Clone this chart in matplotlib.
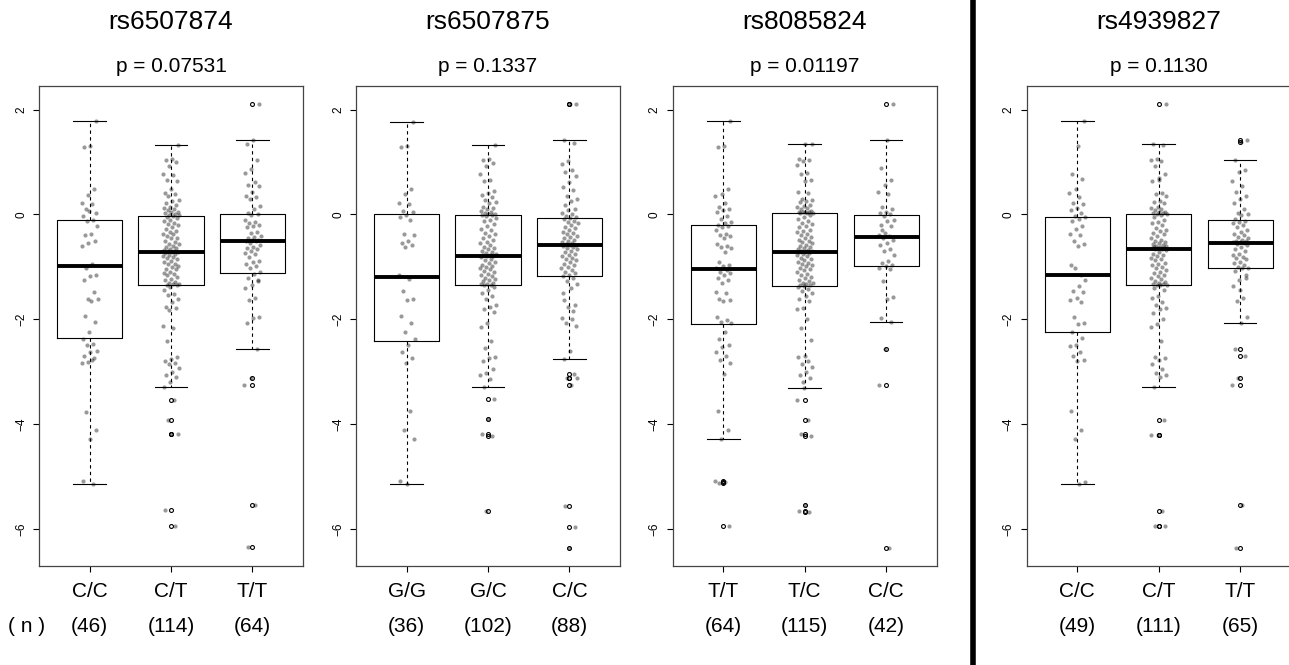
import numpy as np
import matplotlib
matplotlib.use("Agg")
import matplotlib.pyplot as plt
from matplotlib.lines import Line2D
from matplotlib.transforms import blended_transform_factory

plt.rcParams['font.family'] = ['Liberation Sans', 'DejaVu Sans']

# ---------------- data ----------------
snps = ["rs6507874", "rs6507875", "rs8085824", "rs4939827"]
pvals = ["p = 0.07531", "p = 0.1337", "p = 0.01197", "p = 0.1130"]
genotypes = [["C/C", "C/T", "T/T"],
             ["G/G", "G/C", "C/C"],
             ["T/T", "T/C", "C/C"],
             ["C/C", "C/T", "T/T"]]
n_labels = [["(46)", "(114)", "(64)"],
            ["(36)", "(102)", "(88)"],
            ["(64)", "(115)", "(42)"],
            ["(49)", "(111)", "(65)"]]

# box statistics: [lower whisker, Q1, median, Q3, upper whisker]
box_rs6507874 = [[-5.14, -2.36, -0.98, -0.11, 1.78],
                 [-3.30, -1.34, -0.72, -0.03, 1.33],
                 [-2.56, -1.12, -0.50, 0.01, 1.41]]
box_rs6507875 = [[-5.14, -2.42, -1.20, 0.00, 1.77],
                 [-3.30, -1.35, -0.79, -0.01, 1.33],
                 [-2.76, -1.17, -0.59, -0.06, 1.41]]
box_rs8085824 = [[-4.28, -2.09, -1.05, -0.21, 1.78],
                 [-3.31, -1.36, -0.71, 0.03, 1.35],
                 [-2.06, -0.98, -0.43, -0.01, 1.41]]
box_rs4939827 = [[-5.14, -2.24, -1.16, -0.05, 1.78],
                 [-3.30, -1.35, -0.66, 0.00, 1.34],
                 [-2.07, -1.03, -0.54, -0.11, 1.03]]

# individual values
p1_cc = [1.78, 1.30, 1.28, 0.48, 0.37, 0.22, 0.19, 0.11, 0.03, 0.06, -0.04, -0.11, -0.13,
         -0.22, -0.37, -0.39, -0.51, -0.54, -0.60, -0.95, -1.02, -1.16, -1.17, -1.25, -1.49,
         -1.61, -1.62, -1.66, -1.94, -2.06, -2.24, -2.37, -2.48, -2.49, -2.60, -2.62, -2.70,
         -2.75, -2.81, -2.83, -2.77, -3.77, -4.12, -4.29, -5.09, -5.14]
p1_ct = [1.33, 1.05, 1.03, 1.00, 0.93, 0.78, 0.75, 0.66, 0.63, 0.49, 0.41, 0.38, 0.36, 0.27,
         0.25, 0.22, 0.17, 0.14, 0.13, 0.10, 0.08, 0.05, 0.04, 0.02, 0.01, -0.01, -0.02, -0.03,
         -0.05, -0.07, -0.11, -0.12, -0.16, -0.19, -0.20, -0.24, -0.27, -0.31, -0.33, -0.37,
         -0.38, -0.42, -0.45, -0.46, -0.51, -0.52, -0.56, -0.57, -0.61, -0.63, -0.64, -0.66,
         -0.68, -0.69, -0.70, -0.71, -0.72,
         -0.73, -0.75, -0.78, -0.79, -0.82, -0.84, -0.86, -0.89, -0.91, -0.94, -0.95, -0.99,
         -1.01, -1.04, -1.05, -1.09, -1.11, -1.14, -1.16, -1.20, -1.23, -1.26, -1.29, -1.30,
         -1.32, -1.33, -1.34, -1.34,
         -1.38, -1.44, -1.51, -1.54, -1.62, -1.67, -1.76, -1.78, -1.83, -2.13, -2.16, -2.42,
         -2.73, -2.76, -2.79, -2.83, -2.86, -2.94, -3.01, -3.06, -3.11, -3.19, -3.30, -3.54,
         -3.92, -4.20, -4.20, -5.65, -5.94]
p1_tt = [2.11, 1.41, 1.35, 1.03, 0.86, 0.79, 0.62, 0.57, 0.54, 0.43, 0.35, 0.33, 0.30, 0.16,
         0.11, 0.02, 0.00, -0.02, -0.11, -0.15, -0.16, -0.20, -0.22, -0.25, -0.33, -0.36,
         -0.41, -0.43, -0.46, -0.48, -0.49, -0.50, -0.51, -0.54, -0.59, -0.62, -0.65, -0.67,
         -0.70, -0.73, -0.76, -0.81, -0.89, -0.91, -0.95, -0.98, -1.03, -1.10, -1.14, -1.21,
         -1.27, -1.35, -1.41, -1.59, -1.64, -1.96, -1.97, -2.08, -2.56, -3.12, -3.25, -5.54,
         -6.35, -1.25]

p2_gg = [1.77, 1.30, 1.28, 0.48, 0.38, 0.22, 0.19, 0.06, 0.04, -0.02, -0.05, -0.11, -0.37,
         -0.39, -0.51, -0.54, -0.59, -0.62, -1.16, -1.24, -1.47, -1.61, -1.64, -1.94, -2.07,
         -2.24, -2.37, -2.49, -2.63, -2.75, -2.84, -5.09, -3.76, -4.11, -4.28, -5.14]
p2_gc = [1.33, 1.06, 1.03, 0.98, 0.93, 0.78, 0.65, 0.63, 0.45, 0.40, 0.37, 0.33, 0.27, 0.24,
         0.22, 0.15, 0.12, 0.10, 0.06, 0.04, 0.03, 0.01, 0.00, -0.01, -0.01,
         -0.03, -0.06, -0.10, -0.13, -0.18, -0.22, -0.27, -0.30, -0.35, -0.38, -0.42, -0.45,
         -0.49, -0.52, -0.55, -0.59, -0.62, -0.64, -0.67, -0.69, -0.72, -0.74, -0.76, -0.77,
         -0.78, -0.79,
         -0.80, -0.82, -0.85, -0.87, -0.90, -0.93, -0.96, -0.98, -1.00, -1.02, -1.05, -1.08,
         -1.10, -1.13, -1.15, -1.18, -1.21, -1.24, -1.26, -1.28, -1.30, -1.32, -1.33, -1.34,
         -1.35,
         -1.39, -1.45, -1.50, -1.55, -1.62, -1.72, -1.77, -1.80, -1.86, -2.08, -2.14, -2.41,
         -2.55, -2.72, -2.75, -2.79, -2.96, -3.03, -3.07, -3.14, -3.30, -3.53, -3.91, -4.20,
         -4.22, -5.66]
p2_cc = [2.11, 2.11, 1.41, 1.36, 1.02, 0.97, 0.85, 0.80, 0.74, 0.62, 0.53, 0.46, 0.35, 0.30,
         0.25, 0.17, 0.11, 0.09, 0.03, 0.00, -0.03, -0.05,
         -0.07, -0.09, -0.13, -0.15, -0.17, -0.21, -0.24, -0.26, -0.30, -0.33, -0.36, -0.38,
         -0.41, -0.44, -0.46, -0.49, -0.51, -0.53, -0.55, -0.57, -0.58, -0.59,
         -0.60, -0.62, -0.64, -0.67, -0.69, -0.72, -0.75, -0.77, -0.80, -0.83, -0.86, -0.88,
         -0.91, -0.94, -0.97, -1.00, -1.03, -1.06, -1.09, -1.12, -1.15, -1.17,
         -1.21, -1.27, -1.33, -1.40, -1.64, -1.72, -1.76, -1.98, -2.00, -2.08, -2.13, -2.61,
         -2.76, -3.04, -3.13, -3.13, -3.26, -5.56, -5.96, -6.37, -1.50, -1.85]

p3_tt = [1.78, 1.31, 1.29, 0.49, 0.38, 0.35, 0.22, 0.14, 0.10, 0.08, 0.04, -0.03, -0.08,
         -0.14, -0.16, -0.20,
         -0.22, -0.25, -0.29, -0.37, -0.39, -0.42, -0.46, -0.57, -0.60, -0.62, -0.65, -0.72,
         -0.90, -0.96, -0.98, -1.02,
         -1.07, -1.10, -1.12, -1.16, -1.22, -1.25, -1.30, -1.48, -1.50, -1.62, -1.64, -1.66,
         -1.95, -2.02, -2.05, -2.08,
         -2.25, -2.37, -2.50, -2.53, -2.62, -2.70, -2.77, -2.83, -3.04, -3.76, -4.11, -4.28,
         -5.09, -5.11, -5.13, -5.94]
p3_tc = [1.35, 1.34, 1.06, 1.04, 1.01, 0.95, 0.79, 0.78, 0.66, 0.63, 0.42, 0.40, 0.30, 0.28,
         0.25, 0.24, 0.18, 0.16, 0.15, 0.12, 0.10, 0.06, 0.05, 0.05, 0.04, 0.04, 0.03, 0.03,
         0.02, -0.01, -0.05, -0.09, -0.12, -0.16, -0.19, -0.22, -0.25, -0.29, -0.31, -0.33,
         -0.37, -0.40, -0.43, -0.45, -0.48, -0.50, -0.53, -0.55, -0.58, -0.60, -0.62, -0.64,
         -0.66, -0.68, -0.69, -0.70, -0.71,
         -0.72, -0.74, -0.76, -0.78, -0.80, -0.83, -0.85, -0.87, -0.90, -0.92, -0.95, -0.97,
         -0.99, -1.02, -1.04, -1.07, -1.10, -1.13, -1.16, -1.19, -1.22, -1.25, -1.28, -1.30,
         -1.31, -1.33, -1.34, -1.35, -1.36,
         -1.38, -1.42, -1.46, -1.50, -1.55, -1.62, -1.66, -1.78, -1.81, -1.99, -2.16, -2.39,
         -2.71, -2.73, -2.80, -2.86, -2.92, -3.01, -3.06, -3.12, -3.31, -3.54, -3.92, -4.20,
         -4.22, -5.55, -5.66, -5.67, -3.19]
p3_cc = [2.11, 1.41, 0.88, 0.65, 0.57, 0.43, 0.38, 0.15, 0.10, 0.04, 0.02, 0.00, -0.03,
         -0.10, -0.13, -0.21, -0.22, -0.36, -0.39, -0.41, -0.45, -0.49, -0.54, -0.58, -0.67,
         -0.69, -0.78, -0.89, -0.92, -0.97, -0.99, -1.03, -1.05, -1.27, -1.57, -1.62, -1.97,
         -2.06, -2.57, -3.26, -6.36, -0.30]

p4_cc = [1.78, 1.30, 0.78, 0.68, 0.49, 0.40, 0.33, 0.21, 0.19, 0.13, 0.08, 0.03, -0.03,
         -0.05, -0.09, -0.13, -0.23, -0.27, -0.37, -0.40, -0.51, -0.56, -0.60, -0.97, -1.16,
         -1.02, -1.25, -1.36, -1.46, -1.49, -1.60, -1.63, -1.67, -1.95, -2.08, -2.10, -2.25,
         -2.36, -2.49, -2.51, -2.62, -2.70, -2.77, -2.79, -3.76, -4.11, -4.28, -5.10, -5.14]
p4_ct = [2.11, 0.70, 1.34, 1.32, 1.05, 1.03, 1.01, 0.92, 0.77, 0.66, 0.63, 0.40, 0.38, 0.36,
         0.26, 0.24, 0.22, 0.15, 0.13, 0.11, 0.08, 0.05, 0.04, 0.03, 0.02, 0.01, 0.00,
         -0.02, -0.05, -0.10, -0.15, -0.17, -0.21, -0.26, -0.29, -0.32, -0.35, -0.38, -0.42,
         -0.45, -0.48, -0.51, -0.53, -0.55, -0.57, -0.58, -0.60, -0.61, -0.62, -0.63, -0.64,
         -0.65, -0.65, -0.66, -0.66,
         -0.68, -0.71, -0.75, -0.78, -0.80, -0.83, -0.86, -0.88, -0.92, -0.95, -0.97, -1.00,
         -1.03, -1.06, -1.09, -1.12, -1.15, -1.18, -1.21, -1.24, -1.27, -1.29, -1.31, -1.32,
         -1.33, -1.34, -1.35, -1.35,
         -1.40, -1.45, -1.55, -1.60, -1.67, -1.72, -1.78, -1.80, -1.88, -2.00, -2.10, -2.15,
         -2.42, -2.72, -2.75, -2.78, -2.85, -2.96, -3.02, -3.06, -3.10, -3.30, -3.92, -4.21,
         -4.21, -5.66, -5.95, -5.95]
p4_tt = [1.41, 1.38, 1.03, 0.85, 0.80, 0.64, 0.55, 0.42, 0.36, 0.30, 0.22, 0.11, 0.02, 0.00,
         -0.02, -0.09,
         -0.12, -0.15, -0.17, -0.21, -0.25, -0.30, -0.33, -0.37, -0.39, -0.43, -0.46, -0.48,
         -0.50, -0.51, -0.52, -0.53, -0.54,
         -0.56, -0.58, -0.62, -0.66, -0.70, -0.75, -0.78, -0.81, -0.84, -0.86, -0.90, -0.93,
         -0.96, -1.00, -1.02, -1.03,
         -1.08, -1.22, -1.26, -1.36, -1.59, -1.65, -1.96, -2.07, -2.57, -2.71, -3.13, -3.25,
         -5.55, -6.36, -1.15, -1.45]

panels_values = [[p1_cc, p1_ct, p1_tt],
                 [p2_gg, p2_gc, p2_cc],
                 [p3_tt, p3_tc, p3_cc],
                 [p4_cc, p4_ct, p4_tt]]
panels_boxes = [box_rs6507874, box_rs6507875, box_rs8085824, box_rs4939827]

# ---------------- layout ----------------
W, H = 1289, 665
fig = plt.figure(figsize=(W / 100, H / 100), dpi=100)

lefts_px = [39, 356, 672.7, 1026.7]
width_px = 264
top_px, bottom_px = 86, 566

positions = [1, 2, 3]


def jitter_offsets(n, amount=0.1):
    k = np.arange(1, n + 1)
    frac = (k * 0.6180339887 + 0.31) % 1.0
    return amount * (2 * frac - 1)


for pi in range(4):
    ax = fig.add_axes([lefts_px[pi] / W, 1 - bottom_px / H,
                       width_px / W, (bottom_px - top_px) / H])
    stats = []
    for gi in range(3):
        lo, q1, med, q3, hi = panels_boxes[pi][gi]
        vals = np.array(panels_values[pi][gi])
        fl = vals[(vals < lo - 1e-9) | (vals > hi + 1e-9)]
        stats.append(dict(whislo=lo, q1=q1, med=med, q3=q3, whishi=hi, fliers=fl))
    ax.bxp(stats, positions=positions, widths=0.8, capwidths=0.4,
           showfliers=True, manage_ticks=False,
           boxprops=dict(color='black', linewidth=0.8),
           medianprops=dict(color='black', linewidth=2.8, solid_capstyle='butt'),
           whiskerprops=dict(color='black', linewidth=0.8, linestyle=(0, (3, 3))),
           capprops=dict(color='black', linewidth=0.8),
           flierprops=dict(marker='o', markerfacecolor='none', markeredgecolor='black',
                           markersize=2.8, markeredgewidth=0.8, linestyle='none'),
           zorder=2)
    for gi in range(3):
        vals = np.array(panels_values[pi][gi])
        xs = positions[gi] + jitter_offsets(len(vals))
        ax.scatter(xs, vals, s=9, color='black', alpha=0.4, linewidths=0, zorder=3)

    ax.set_xlim(0.38, 3.62)
    ax.set_ylim(-6.71, 2.45)
    ax.set_yticks([-6, -4, -2, 0, 2])
    ax.set_yticklabels(["\u22126", "\u22124", "\u22122", "0", "2"], rotation=90,
                       va='center', fontsize=8.5)
    ax.set_xticks(positions)
    ax.set_xticklabels(genotypes[pi], fontsize=15)
    ax.tick_params(axis='y', length=4.5, width=0.8, pad=4, colors='black')
    ax.tick_params(axis='x', length=4.5, width=0.8, pad=7, colors='black')
    for sp in ax.spines.values():
        sp.set_color('#444444')
        sp.set_linewidth(0.9)

    cx = (lefts_px[pi] + width_px / 2) / W
    fig.text(cx, 1 - 22 / H, snps[pi], ha='center', va='center', fontsize=19)
    fig.text(cx, 1 - 66 / H, pvals[pi], ha='center', va='center', fontsize=15)

    trans = blended_transform_factory(ax.transData, fig.transFigure)
    for gi in range(3):
        ax.text(positions[gi], 1 - 627 / H, n_labels[pi][gi], transform=trans,
                ha='center', va='center', fontsize=15, clip_on=False)

fig.text(27 / W, 1 - 627 / H, "( n )", ha='center', va='center', fontsize=15)

fig.add_artist(Line2D([973 / W, 973 / W], [0, 1], transform=fig.transFigure,
                      color='black', linewidth=4.0))

fig.savefig("out.png", dpi=100)
